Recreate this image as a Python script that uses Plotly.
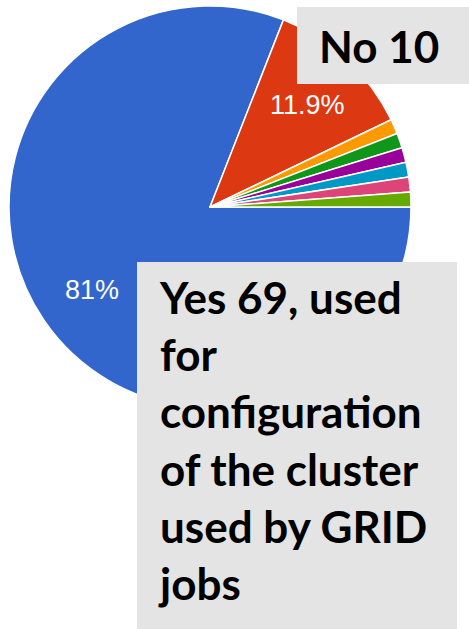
import math
import plotly.graph_objects as go

# Data
labels = ["Yes", "No", "Other 1", "Other 2", "Other 3", "Other 4", "Other 5", "Other 6"]
values = [68, 10, 1, 1, 1, 1, 1, 1]
colors = ["#3366cc", "#dc3912", "#ff9900", "#109618", "#990099", "#0099c6", "#dd4477", "#66aa00"]
show_label = [True, True, False, False, False, False, False, False]
note_no = "No 10"
note_yes_lines = ["Yes 69, used", "for", "configuration", "of the cluster", "used by GRID", "jobs"]

W, H = 469, 629
START_DEG = 90  # first slice starts at 3 o'clock, clockwise
dom_x = [9 / W, 411 / W]
dom_y = [1 - 408 / H, 1 - 6 / H]

total = sum(values)

fig = go.Figure(go.Pie(
    labels=labels,
    values=values,
    textinfo="none",
    marker=dict(colors=colors, line=dict(color="white", width=1.5)),
    sort=False,
    direction="clockwise",
    rotation=START_DEG,
    showlegend=False,
    hoverinfo="label+value+percent",
    domain=dict(x=dom_x, y=dom_y),
))

# percentage labels placed along each slice bisector
cx = (dom_x[0] + dom_x[1]) / 2 * W
cy = (1 - (dom_y[0] + dom_y[1]) / 2) * H
r = (dom_x[1] - dom_x[0]) * W / 2
annotations = []
cum = 0
for v, s in zip(values, show_label):
    mid = START_DEG + (cum + v / 2) / total * 360
    cum += v
    if not s:
        continue
    a = math.radians(mid)
    px = cx + 0.71 * r * math.sin(a)
    py = cy - 0.71 * r * math.cos(a)
    annotations.append(dict(
        text=f"{v / total * 100:.3g}%", xref="paper", yref="paper",
        x=px / W, y=1 - (py + 3) / H, xanchor="center", yanchor="middle", showarrow=False,
        font=dict(family="Liberation Sans, Arial", size=27, color="white")))

annotations += [
    dict(text=f"<b>{note_no}</b>", xref="paper", yref="paper",
         x=317 / W, y=1 - 46 / H, xanchor="left", yanchor="middle",
         showarrow=False, font=dict(family="Lato", size=44, color="black")),
    dict(text="<b>" + "<br>".join(note_yes_lines) + "</b>", xref="paper", yref="paper",
         x=156 / W, y=1 - 269 / H, xanchor="left", yanchor="top", align="left",
         showarrow=False, font=dict(family="Lato", size=44, color="black")),
]

fig.update_layout(
    width=W, height=H,
    margin=dict(l=0, r=0, t=0, b=0),
    paper_bgcolor="white",
    plot_bgcolor="white",
    shapes=[
        dict(type="rect", xref="paper", yref="paper", layer="above",
             x0=297 / W, x1=1.02, y0=1 - 84 / H, y1=1 - 7 / H,
             fillcolor="#e4e4e4", line=dict(width=0)),
        dict(type="rect", xref="paper", yref="paper", layer="above",
             x0=137 / W, x1=457 / W, y0=-0.02, y1=1 - 262 / H,
             fillcolor="#e4e4e4", line=dict(width=0)),
    ],
    annotations=annotations,
)

fig.write_html("out.html", config={"displayModeBar": False},
               post_script="document.body.style.margin='0';")
